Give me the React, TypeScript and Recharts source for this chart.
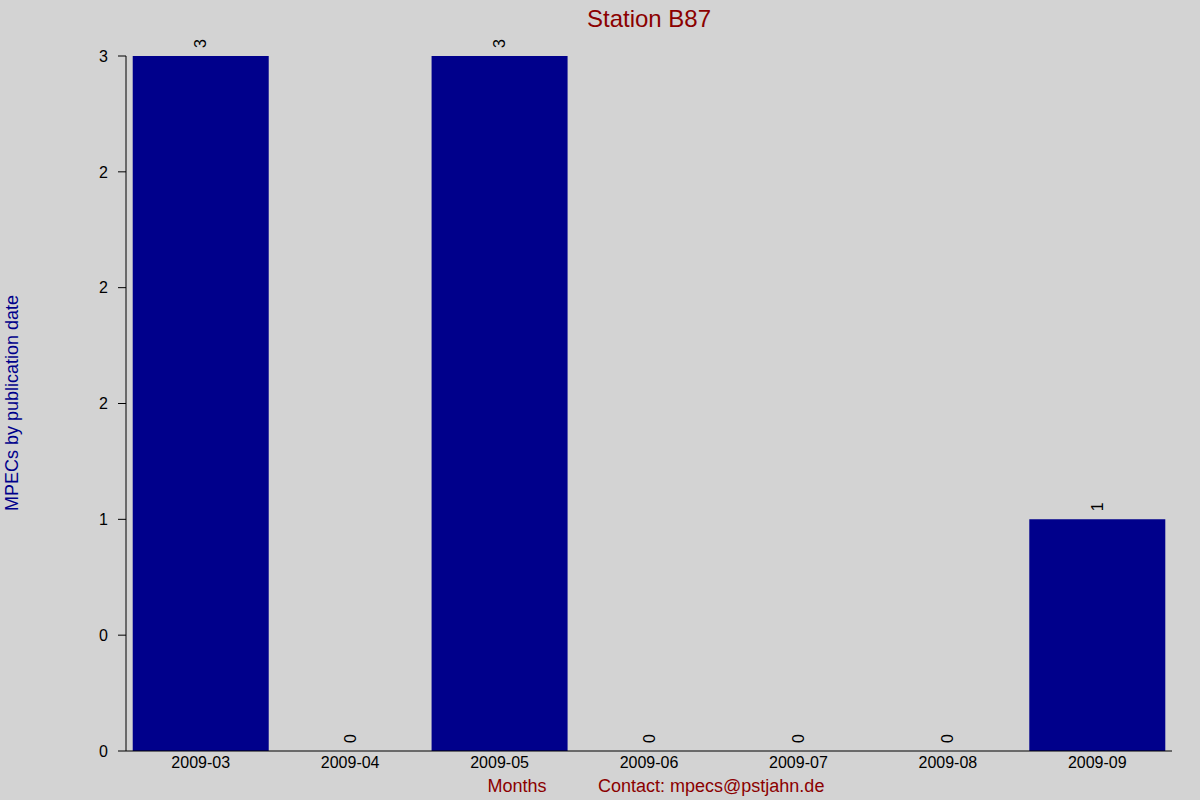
import { BarChart, Bar, XAxis, YAxis, LabelList } from "recharts";

const months = ["2009-03", "2009-04", "2009-05", "2009-06", "2009-07", "2009-08", "2009-09"];
const mpecs = [3, 0, 3, 0, 0, 0, 1];
const yTicks = [0, 0.5, 1, 1.5, 2, 2.5, 3];
const yTickLabels = ["0", "0", "1", "2", "2", "2", "3"];

const data = months.map((month, i) => ({ month, n: mpecs[i] }));

const FONT = "'Liberation Sans', Arial, sans-serif";

function RotatedValue({ cx, base, value }: { cx: number; base: number; value: number }) {
  const ty = base - 8;
  return (
    <text
      x={cx}
      y={ty}
      transform={`rotate(-90, ${cx}, ${ty})`}
      textAnchor="start"
      dominantBaseline="central"
      fontSize={16}
      fontFamily={FONT}
      fill="#000"
    >
      {String(value)}
    </text>
  );
}

// value labels sit rotated just above each bar top
function BarValue(props: any) {
  const { x, y, width, value } = props;
  if (!value) return null;
  return <RotatedValue cx={x + width / 2} base={y} value={value} />;
}

// month tick; zero-height bars get their "0" drawn from here
function MonthTick(props: any) {
  const { x, y, payload, index } = props;
  const v = mpecs[index];
  return (
    <g>
      {v === 0 && <RotatedValue cx={x} base={y - 6} value={0} />}
      <text x={x} y={y} dy="0.71em" textAnchor="middle" fontSize={16} fontFamily={FONT} fill="#000">
        {payload.value}
      </text>
    </g>
  );
}

export default function App() {
  return (
    <div
      style={{
        position: "fixed",
        left: 0,
        top: 0,
        width: 1200,
        height: 800,
        background: "#d3d3d3",
        fontFamily: FONT,
      }}
    >
      <BarChart
        width={1200}
        height={800}
        data={data}
        margin={{ top: 56, right: 28, bottom: 0, left: 0 }}
        barCategoryGap="4.5%"
      >
        <XAxis
          dataKey="month"
          height={49}
          stroke="#000"
          tickLine={false}
          tickSize={0}
          tickMargin={6}
          axisLine={{ stroke: "#000" }}
          tick={<MonthTick />}
          interval={0}
        />
        <XAxis
          xAxisId="top"
          dataKey="month"
          orientation="top"
          height={0}
          stroke="#000"
          axisLine={false}
          tick={false}
          tickSize={1}
          tickLine={{ stroke: "#000" }}
        />
        <YAxis
          width={126}
          domain={[0, 3]}
          ticks={yTicks}
          stroke="#000"
          tickFormatter={(v: number) => yTickLabels[yTicks.indexOf(v)]}
          tickSize={8}
          tickMargin={10}
          axisLine={{ stroke: "#000" }}
          tickLine={{ stroke: "#000" }}
          tick={{ fill: "#000", fontSize: 16, fontFamily: FONT }}
          interval={0}
        />
        <Bar dataKey="n" fill="#00008b" isAnimationActive={false}>
          <LabelList dataKey="n" content={BarValue} />
        </Bar>
      </BarChart>
      <svg
        width={1200}
        height={800}
        style={{ position: "absolute", left: 0, top: 0, pointerEvents: "none" }}
      >
        <text x={649} y={27} textAnchor="middle" fontSize={24} fontFamily={FONT} fill="#8b0000">
          Station B87
        </text>
        <text
          x={18}
          y={403}
          transform="rotate(-90, 18, 403)"
          textAnchor="middle"
          fontSize={18}
          fontFamily={FONT}
          fill="#00008b"
        >
          MPECs by publication date
        </text>
        <text x={517} y={792} textAnchor="middle" fontSize={18} fontFamily={FONT} fill="#8b0000">
          Months
        </text>
        <text x={598} y={792} textAnchor="start" fontSize={18} fontFamily={FONT} fill="#8b0000">
          Contact: mpecs@pstjahn.de
        </text>
      </svg>
    </div>
  );
}
